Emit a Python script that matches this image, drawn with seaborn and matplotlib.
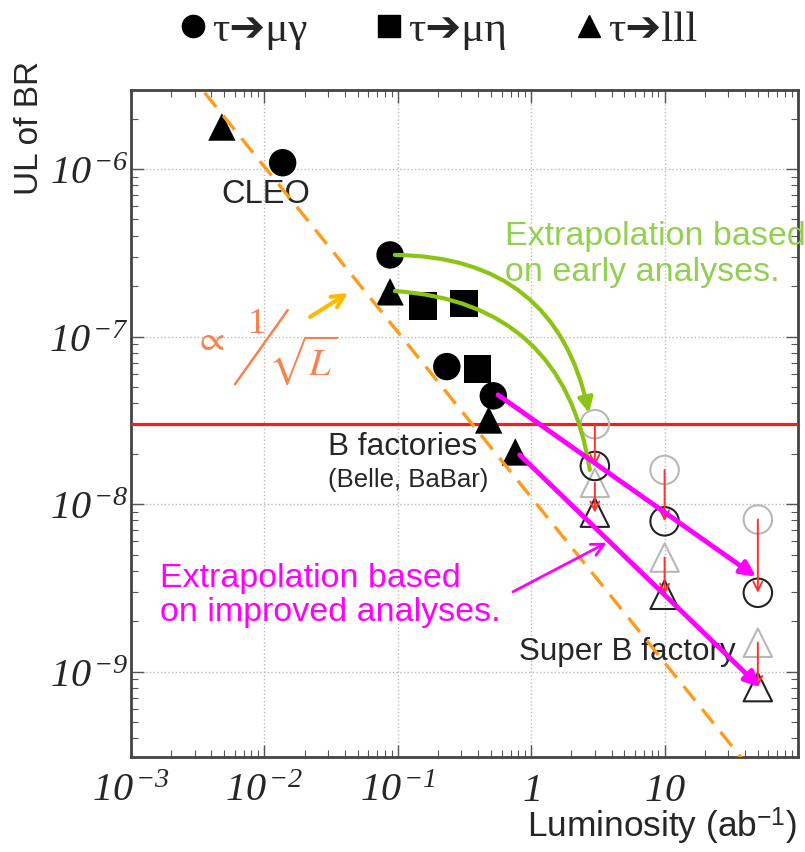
import numpy as np
import pandas as pd
import matplotlib
matplotlib.use("Agg")
import matplotlib.pyplot as plt
import matplotlib.ticker as mticker
from matplotlib.lines import Line2D
from matplotlib.font_manager import FontProperties
import seaborn as sns

# ---- measured upper limits (filled markers) ----
meas_channel = ["mugamma", "mugamma", "mugamma", "mugamma",
                "mueta", "mueta", "mueta",
                "lll", "lll", "lll", "lll"]
meas_lumi = [0.0137, 0.0875, 0.233, 0.52,
             0.154, 0.313, 0.397,
             0.0048, 0.0875, 0.48, 0.76]
meas_ul = [1.09e-6, 3.07e-7, 6.62e-8, 4.43e-8,
           1.52e-7, 1.57e-7, 6.4e-8,
           1.78e-6, 1.85e-7, 3.18e-8, 2.05e-8]

# ---- Super B projections (open markers) ----
proj_lumi = [3, 10, 50]
early_mugamma = [3.0e-8, 1.6e-8, 8.1e-9]
improved_mugamma = [1.69e-8, 7.9e-9, 2.96e-9]
early_lll = [1.34e-8, 4.8e-9, 1.49e-9]
improved_lll = [8.9e-9, 2.88e-9, 8.1e-10]

# B factory level and 1/sqrt(L)-like guide line
bfactory_ul = 3.0e-8
guide_lumi = [1e-3, 1e2]
guide_ul = [1.0e-5, 1.17e-10]

# arrows: (start lumi, start ul, end lumi, end ul)
magenta_arrows = [(0.564, 4.49e-8, 48.4, 3.69e-9),
                  (0.82, 1.97e-8, 51.9, 8.1e-10)]
magenta_pointer = (0.73, 3.0e-9, 3.68, 5.89e-9)
green_arrows = [(0.095, 3.07e-7, 2.71, 3.5e-8),
                (0.095, 1.87e-7, 2.75, 1.6e-8)]
yellow_arrow = (0.022, 1.31e-7, 0.0424, 1.82e-7)

x_ticks = [1e-3, 1e-2, 1e-1, 1, 10, 100]
x_labels = [r"$\mathrm{10}^{\,\mathrm{-3}}$", r"$\mathrm{10}^{\,\mathrm{-2}}$",
            r"$\mathrm{10}^{\,\mathrm{-1}}$", r"$\mathrm{1}$", r"$\mathrm{10}$", ""]
y_ticks = [1e-9, 1e-8, 1e-7, 1e-6]
y_labels = [r"$\mathrm{10}^{\,\mathrm{-9}}$", r"$\mathrm{10}^{\,\mathrm{-8}}$",
            r"$\mathrm{10}^{\,\mathrm{-7}}$", r"$\mathrm{10}^{\,\mathrm{-6}}$"]

marker_map = {"mugamma": "o", "mueta": "s", "lll": "^"}

sns.set_style("ticks", {"xtick.direction": "in", "ytick.direction": "in"})
plt.rcParams["font.family"] = ["Liberation Sans", "DejaVu Sans"]
plt.rcParams["mathtext.fontset"] = "custom"
plt.rcParams["mathtext.rm"] = "Liberation Serif:italic"
plt.rcParams["mathtext.it"] = "Liberation Serif:italic"
plt.rcParams["mathtext.fallback"] = "stix"

fig = plt.figure(figsize=(8.05, 8.52), dpi=100)
ax = fig.add_axes([131 / 805, 95 / 852, 667 / 805, 667 / 852])
ax.set_xscale("log")
ax.set_yscale("log")
ax.set_xlim(1e-3, 1e2)
ax.set_ylim(3.1e-10, 2.96e-6)

# grid, spines, ticks
ax.grid(True, which="major", linestyle=":", color="#bbbbbb", linewidth=1)
for sp in ax.spines.values():
    sp.set_color("#444444")
    sp.set_linewidth(2)
ax.tick_params(which="both", top=True, right=True, direction="in", color="#555555")
ax.tick_params(which="major", length=9, width=1)
ax.tick_params(which="minor", length=5, width=0.8)
ax.xaxis.set_major_locator(mticker.FixedLocator(x_ticks))
ax.xaxis.set_major_formatter(mticker.FixedFormatter(x_labels))
ax.yaxis.set_major_locator(mticker.FixedLocator(y_ticks))
ax.yaxis.set_major_formatter(mticker.FixedFormatter(y_labels))
ax.xaxis.set_minor_locator(mticker.LogLocator(base=10, subs=np.arange(2, 10), numticks=20))
ax.yaxis.set_minor_locator(mticker.LogLocator(base=10, subs=np.arange(2, 10), numticks=20))
ax.xaxis.set_minor_formatter(mticker.NullFormatter())
ax.yaxis.set_minor_formatter(mticker.NullFormatter())
ax.tick_params(axis="x", which="major", labelsize=29, pad=10)
ax.tick_params(axis="y", which="major", labelsize=29, pad=1.5)

# B factory line
ax.axhline(bfactory_ul, color="#ff1a1a", linewidth=2.3, zorder=3)

# measured points
meas = pd.DataFrame({"lumi": meas_lumi, "ul": meas_ul, "channel": meas_channel})
sns.scatterplot(data=meas, x="lumi", y="ul", style="channel", markers=marker_map,
                color="black", s=390, linewidth=0, legend=False, ax=ax, zorder=5)

# projections
proj = pd.DataFrame({
    "lumi": proj_lumi * 4,
    "ul": early_mugamma + early_lll + improved_mugamma + improved_lll,
    "channel": ["mugamma"] * 3 + ["lll"] * 3 + ["mugamma"] * 3 + ["lll"] * 3,
    "stage": ["early"] * 6 + ["improved"] * 6,
})
for stage, col in [("early", "#b8b8b8"), ("improved", "#222222")]:
    sub = proj[proj["stage"] == stage]
    sns.scatterplot(data=sub, x="lumi", y="ul", style="channel", markers=marker_map,
                    facecolor="none", edgecolor=col, linewidth=1.5, s=420,
                    legend=False, ax=ax, zorder=4)
ax.set_xlabel("")
ax.set_ylabel("")

# red arrows early -> improved
for i, lum in enumerate(proj_lumi):
    for y0, y1 in [(early_mugamma[i], improved_mugamma[i]), (early_lll[i], improved_lll[i])]:
        ax.annotate("", xy=(lum, y1), xytext=(lum, y0),
                    arrowprops=dict(arrowstyle="->", color="#ff3030", lw=1.4,
                                    shrinkA=0, shrinkB=0, mutation_scale=16),
                    zorder=6)

# guide line
ax.plot(guide_lumi, guide_ul, color="#ff9a1a", linestyle=(0, (5.5, 3.3)), linewidth=2.4, zorder=7)

# green curved arrows
for k, (x0, y0, x1, y1) in enumerate(green_arrows):
    style = "-|>" if k == 0 else "-"
    ax.annotate("", xy=(x1, y1), xytext=(x0, y0),
                arrowprops=dict(arrowstyle=style, color="#8cc414", lw=3,
                                connectionstyle="arc3,rad=-0.4",
                                shrinkA=0, shrinkB=0, mutation_scale=22),
                zorder=8)

# magenta arrows
for x0, y0, x1, y1 in magenta_arrows:
    ax.annotate("", xy=(x1, y1), xytext=(x0, y0),
                arrowprops=dict(arrowstyle="-|>", color="#ff00ff", lw=3.5,
                                shrinkA=0, shrinkB=0, mutation_scale=22),
                zorder=8)
x0, y0, x1, y1 = magenta_pointer
ax.annotate("", xy=(x1, y1), xytext=(x0, y0),
            arrowprops=dict(arrowstyle="->", color="#ff00ff", lw=2,
                            shrinkA=0, shrinkB=0, mutation_scale=22),
            zorder=8)

# yellow arrow
x0, y0, x1, y1 = yellow_arrow
ax.annotate("", xy=(x1, y1), xytext=(x0, y0),
            arrowprops=dict(arrowstyle="->", color="#ffba00", lw=3,
                            shrinkA=0, shrinkB=0, mutation_scale=22),
            zorder=8)

# 1/sqrt(L) label
coral = "#fb8050"
ax.text(0.118, 0.625, r"$\propto$", transform=ax.transAxes, color=coral,
        fontsize=26, ha="center", va="center", math_fontfamily="stix")
ax.text(0.189, 0.648, "1", transform=ax.transAxes, color=coral, family="Liberation Serif",
        fontsize=26, ha="center", va="center")
ax.add_line(Line2D([0.156, 0.235], [0.559, 0.670], transform=ax.transAxes,
                   color=coral, linewidth=1.8))
ax.text(0.258, 0.595, r"$\sqrt{L}$", transform=ax.transAxes, color=coral,
        fontsize=28, ha="center", va="center", math_fontfamily="stix")

# annotations
ax.text(0.136, 0.843, "CLEO", transform=ax.transAxes, fontsize=23.5, ha="left", va="center")
ax.text(0.295, 0.465, "B factories", transform=ax.transAxes, fontsize=22.7, ha="left", va="center")
ax.text(0.295, 0.415, "(Belle, BaBar)", transform=ax.transAxes, fontsize=18.5, ha="left", va="center")
ax.text(0.561, 0.780, "Extrapolation based", transform=ax.transAxes, fontsize=24.5,
        color="#92d050", ha="left", va="center", clip_on=False)
ax.text(0.561, 0.727, "on early analyses.", transform=ax.transAxes, fontsize=24.5,
        color="#92d050", ha="left", va="center")
ax.text(0.0435, 0.268, "Extrapolation based", transform=ax.transAxes, fontsize=24.5,
        color="#ff00ff", ha="left", va="center")
ax.text(0.0435, 0.217, "on improved analyses.", transform=ax.transAxes, fontsize=24.5,
        color="#ff00ff", ha="left", va="center")
ax.text(0.582, 0.157, "Super B factory", transform=ax.transAxes, fontsize=22.6,
        ha="left", va="center")

# axis titles
fig.text(30 / 805, 1 - 128 / 852, "UL of BR", rotation=90, fontsize=24,
         ha="center", va="center")
fig.text(797 / 805, 1 - 806 / 852, r"Luminosity (ab$^{\mathregular{-1}}$)", fontsize=25.4,
         ha="right", va="top")

# legend on top
handles = [Line2D([], [], marker=marker_map[c], color="black", linestyle="none", markersize=16)
           for c in ["mugamma", "mueta", "lll"]]
labels = ["τ➔μγ", "τ➔μη", "τ➔lll"]
fig.legend(handles, labels, loc="center", bbox_to_anchor=(0.545, 1 - 30 / 852), ncol=3,
           frameon=False, handlelength=0.6, handletextpad=0.15, columnspacing=1.6,
           prop=FontProperties(family=["Liberation Serif", "DejaVu Sans"], size=31))

fig.savefig("out.png", dpi=100)
